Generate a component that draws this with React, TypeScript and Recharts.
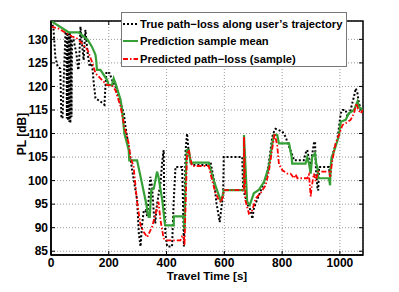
import { CartesianGrid, Line, LineChart, ReferenceArea, ReferenceLine, XAxis, YAxis } from "recharts";

// travel time [s], path-loss [dB]
const truePathLoss: [number, number][] = [
  [0, 133.9], [5, 133.2], [9, 132], [13, 128], [15, 126.3], [23, 124.2], [32, 123.8], [36, 113.6],
  [40, 113.2], [44, 121.4], [50, 131.3], [53, 131.6], [55, 113.2], [57, 131.4], [59, 112.8],
  [61, 131.2], [63, 112.5], [65, 131.6], [67, 112.2], [69, 131], [71, 113.5], [73, 129.9],
  [78, 129.9], [88, 127], [94, 123.5], [97, 124.5], [102, 132.7], [107, 129.2], [113, 125.6],
  [119, 132], [127, 127], [134, 124.2], [142, 124.9], [148, 120.7], [154, 117.5], [171, 116.8],
  [185, 116.1], [188, 119.6], [192, 123.1], [203, 122.8], [211, 121.4], [223, 120], [241, 116.4],
  [252, 114.3], [258, 111.4], [269, 107.2], [281, 102.2], [298, 95.9], [304, 88.8], [310, 86],
  [315, 90.5], [321, 93.5], [327, 93.7], [333, 92.5], [338, 96], [344, 100.8], [350, 98.6],
  [356, 93], [361, 90.9], [367, 95], [379, 99.4], [385, 104], [390, 106.5], [392, 95.9],
  [396, 88.8], [402, 86], [419, 86], [425, 95.9], [431, 102.9], [454, 102.9], [458, 92.3],
  [460, 86], [466, 106.5], [471, 110], [477, 105.8], [483, 104.3], [488, 103.3], [546, 103.3],
  [552, 104], [564, 100.1], [573, 95.1], [581, 92.3], [584, 91.2], [589, 93.7], [596, 97.3],
  [598, 105], [662, 105], [665, 98], [673, 96.5], [679, 95.1], [691, 93.7], [697, 91.9],
  [702, 94], [708, 95.1], [731, 98.6], [749, 101.5], [760, 106.5], [766, 109.3], [772, 110.4],
  [777, 111], [801, 110.4], [812, 109.3], [824, 107.2], [833, 105.8], [841, 104.3], [875, 104.3],
  [881, 105.8], [887, 106.5], [893, 104.5], [899, 102.9], [904, 105.5], [910, 107.9], [914, 108.3],
  [916, 104], [918, 101.5], [922, 98.6], [925, 97.9], [928, 102.9], [962, 102.9], [966, 100.8],
  [971, 104.3], [979, 106.5], [991, 108.6], [1003, 114.3], [1009, 115], [1020, 115], [1026, 113.6],
  [1037, 115], [1049, 117.9], [1055, 119.6], [1061, 118.5], [1066, 116.4], [1076, 114.6],
];

const sampleMean: [number, number][] = [
  [0, 133.9], [61, 131.5], [96, 131.5], [127, 129.9], [142, 128.4], [154, 126.7], [157, 125.2],
  [159, 123.5], [171, 123.5], [194, 121.4], [200, 120.3], [211, 120.3], [217, 121.7], [223, 120.7],
  [241, 117.1], [246, 115], [254, 110], [269, 106.5], [271, 104.3], [298, 104.3], [315, 99.4],
  [327, 95.9], [338, 92.3], [342, 92.3], [347, 98], [356, 98.3], [367, 101.9], [372, 100.8],
  [385, 95.9], [394, 90.9], [396, 90.5], [425, 90.5], [425, 92.4], [460, 92.4], [462, 89.5],
  [466, 100], [470, 106.5], [477, 106.5], [483, 103.8], [546, 103.8], [558, 101.1], [569, 99],
  [587, 95.8], [593, 96.5], [598, 98], [668, 98], [668, 109.7], [679, 95.5], [688, 94.8],
  [702, 97.3], [719, 98], [737, 99.7], [754, 102.9], [766, 107.9], [772, 109.7], [783, 109.7],
  [789, 107.9], [824, 107.9], [833, 105], [835, 103.6], [881, 103.6], [887, 105], [893, 103.6],
  [899, 101.5], [904, 105], [914, 105.8], [918, 103.6], [922, 102.9], [925, 100.5], [962, 100.5],
  [966, 99], [968, 102.9], [971, 104.7], [985, 107.2], [997, 109.7], [1003, 112.5], [1020, 112.9],
  [1031, 114.3], [1049, 115], [1061, 116.8], [1066, 115.7], [1078, 115],
];

const predictedSample: [number, number][] = [
  [0, 132.7], [26, 132.3], [50, 131.4], [73, 130.6], [90, 130.2], [107, 129.2], [127, 127.7],
  [142, 125.2], [154, 122.8], [171, 121.7], [194, 120.3], [211, 120.3], [223, 119.2], [241, 115.7],
  [254, 111.4], [269, 107.9], [275, 105], [286, 102.9], [298, 95.5], [310, 90.5], [321, 89.1],
  [333, 88], [350, 90.2], [364, 93.5], [372, 95.5], [379, 91.6], [390, 87.7], [402, 87.3],
  [448, 87.3], [454, 88.2], [460, 88.2], [462, 86.2], [471, 105.8], [477, 106.5], [488, 103.1],
  [546, 103.1], [558, 100], [569, 97.5], [581, 95.8], [589, 95.4], [598, 97.6], [601, 98],
  [668, 98], [668, 109.3], [673, 95.8], [685, 93], [697, 93.7], [708, 96.2], [725, 97.3],
  [743, 99], [754, 101.9], [766, 106.8], [774, 110], [783, 107.5], [789, 103.5], [801, 102.2],
  [818, 101.5], [829, 101.5], [841, 100.5], [847, 101.3], [853, 100.5], [887, 100.5], [893, 101.3],
  [899, 96.6], [902, 98.5], [910, 101.5], [916, 99.9], [925, 101.9], [962, 101.9], [966, 100.8],
  [974, 104.3], [985, 107.9], [997, 109.7], [1009, 111.8], [1020, 112.2], [1037, 112.9],
  [1049, 114.3], [1057, 116.4], [1064, 115], [1072, 114.3], [1080, 115],
];

const xTicks = [0, 200, 400, 600, 800, 1000];
const yTicks = [85, 90, 95, 100, 105, 110, 115, 120, 125, 130];
const X_DOMAIN: [number, number] = [0, 1080];
const Y_DOMAIN: [number, number] = [84.2, 133.9];

const GREEN = "#35a035";
const FONT = "'Liberation Sans', Arial, Helvetica, sans-serif";

// inward tick length, in data units (about 4px each way)
const X_TICK_LEN = 14;
const Y_TICK_LEN = 0.85;

const toRows = (pts: [number, number][]) => pts.map(([t, pl]) => ({ t, pl }));

const legendItems = [
  { label: "True path\u2212loss along user\u2019s trajectory", stroke: "#000", dash: "2 2" },
  { label: "Prediction sample mean", stroke: GREEN, dash: undefined },
  { label: "Predicted path\u2212loss (sample)", stroke: "#ff0000", dash: "5 2 1.5 2" },
];

export default function App() {
  const tickStyle = { fontSize: 12, fontWeight: 700, fill: "#000", fontFamily: FONT };
  const [x0, x1] = X_DOMAIN;
  const [y0, y1] = Y_DOMAIN;
  return (
    <div style={{ position: "absolute", left: 0, top: 0, width: 399, height: 292, fontFamily: FONT, background: "#fff" }}>
      <LineChart width={399} height={292} margin={{ top: 21, right: 36, bottom: 7, left: 6 }}>
        <CartesianGrid stroke="#9a9a9a" strokeDasharray="1 2" />
        <XAxis
          type="number"
          dataKey="t"
          domain={X_DOMAIN}
          ticks={xTicks}
          allowDataOverflow
          height={30}
          tickSize={0}
          tickMargin={3}
          tick={tickStyle}
          axisLine={{ stroke: "#000", strokeWidth: 1.5 }}
        />
        <YAxis
          type="number"
          domain={Y_DOMAIN}
          ticks={yTicks}
          allowDataOverflow
          width={45}
          tickSize={0}
          tickMargin={3}
          tick={tickStyle}
          axisLine={{ stroke: "#000", strokeWidth: 1.5 }}
        />
        {xTicks.map((t) => (
          <ReferenceLine key={`xb${t}`} segment={[{ x: t, y: y0 }, { x: t, y: y0 + Y_TICK_LEN }]} stroke="#000" strokeWidth={1} />
        ))}
        {xTicks.map((t) => (
          <ReferenceLine key={`xt${t}`} segment={[{ x: t, y: y1 }, { x: t, y: y1 - Y_TICK_LEN }]} stroke="#000" strokeWidth={1} />
        ))}
        {yTicks.map((v) => (
          <ReferenceLine key={`yl${v}`} segment={[{ x: x0, y: v }, { x: x0 + X_TICK_LEN, y: v }]} stroke="#000" strokeWidth={1} />
        ))}
        {yTicks.map((v) => (
          <ReferenceLine key={`yr${v}`} segment={[{ x: x1, y: v }, { x: x1 - X_TICK_LEN, y: v }]} stroke="#000" strokeWidth={1} />
        ))}
        <Line data={toRows(truePathLoss)} dataKey="pl" type="linear" stroke="#000" strokeWidth={2} strokeDasharray="2 2" dot={false} isAnimationActive={false} />
        <Line data={toRows(sampleMean)} dataKey="pl" type="linear" stroke={GREEN} strokeWidth={2.2} dot={false} isAnimationActive={false} />
        <Line data={toRows(predictedSample)} dataKey="pl" type="linear" stroke="#ff0000" strokeWidth={1.8} strokeDasharray="5 2 1.5 2" dot={false} isAnimationActive={false} />
        <ReferenceArea x1={x0} x2={x1} y1={y0} y2={y1} fill="none" stroke="#000" strokeWidth={1.5} ifOverflow="visible" />
      </LineChart>

      <div style={{ position: "absolute", left: 0, top: 270, width: 414, textAlign: "center", fontSize: 11.5, fontWeight: 700, lineHeight: "12px" }}>
        Travel Time [s]
      </div>
      <div
        style={{
          position: "absolute", left: 22, top: 134, fontSize: 12, fontWeight: 700, whiteSpace: "nowrap",
          transform: "translate(-50%, -50%) rotate(-90deg)",
        }}
      >
        PL [dB]
      </div>

      <div
        style={{
          position: "absolute", left: 121, top: 12, width: 226, height: 55, background: "#fff",
          border: "1px solid #777", boxSizing: "border-box", paddingTop: 2,
        }}
      >
        {legendItems.map((it) => (
          <div key={it.label} style={{ display: "flex", alignItems: "center", height: 17.5, fontSize: 11.2, fontWeight: 700, whiteSpace: "nowrap" }}>
            <svg width={16} height={10} style={{ marginLeft: 1, marginRight: 1 }}>
              <line x1={0} y1={5} x2={15} y2={5} stroke={it.stroke} strokeWidth={2} strokeDasharray={it.dash} />
            </svg>
            {it.label}
          </div>
        ))}
      </div>
    </div>
  );
}
